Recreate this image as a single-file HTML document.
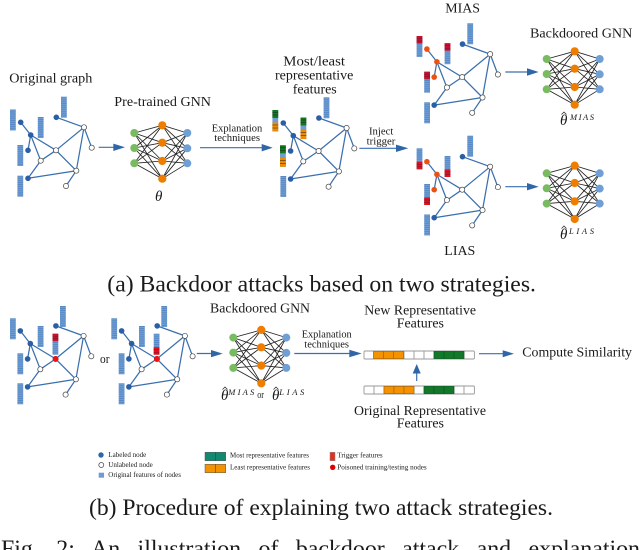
<!DOCTYPE html>
<html><head><meta charset="utf-8">
<style>
html,body{margin:0;padding:0;background:#fff;width:640px;height:550px;overflow:hidden}
svg{display:block}
text{font-family:"Liberation Serif",serif;fill:#1a1a1a}
.i{font-style:italic}
</style></head><body>
<svg width="640" height="550" viewBox="0 0 640 550" xmlns="http://www.w3.org/2000/svg">
<defs>
<pattern id="st" patternUnits="userSpaceOnUse" width="6" height="2.1"><rect width="6" height="2.1" fill="#6f9dd3"/><rect width="6" height="0.7" fill="#4f82c0"/></pattern>
<rect id="bar" width="5.8" height="21" fill="url(#st)"/>
<g id="barRT"><rect width="5.8" height="21" fill="url(#st)"/><rect width="5.8" height="7.5" fill="#c8102e"/><path d="M0 2.5H5.8M0 5H5.8" stroke="#7a1020" stroke-width=".5"/></g>
<g id="barRB"><rect width="5.8" height="21" fill="url(#st)"/><rect y="13.5" width="5.8" height="7.5" fill="#e0101e"/><path d="M0 16H5.8M0 18.5H5.8" stroke="#7a1020" stroke-width=".5"/></g>
<g id="barGO"><rect width="5.8" height="21.5" fill="#6f9dd3"/><rect width="5.8" height="8" fill="#12781f"/><rect y="12.5" width="5.8" height="9" fill="#ee8a00"/><path d="M0 2.5H5.8M0 5H5.8M0 15H5.8M0 18H5.8" stroke="#222" stroke-width=".5"/></g>
<g id="edges" stroke="#3a6fae" stroke-width="1.25" fill="none">
<path d="M20.7 122.3L30.7 135M30.7 135L28 150.3M30.7 135L56 150.3M30.7 135L40.7 160.7M56.3 117.3L84 127.3M84 127.3L91.7 147.7M84 127.3L56 150.3M84 127.3L76.3 170.7M56 150.3L40.7 160.7M56 150.3L76.3 170.7M40.7 160.7L28 178.3M28 178.3L76.3 170.7M76.3 170.7L66 186"/>
</g>
<g id="un" fill="#fff" stroke="#444" stroke-width=".7">
<circle cx="84" cy="127.3" r="2.6"/><circle cx="91.7" cy="147.7" r="2.6"/><circle cx="56" cy="150.3" r="2.6"/><circle cx="40.7" cy="160.7" r="2.6"/><circle cx="76.3" cy="170.7" r="2.6"/><circle cx="66" cy="186" r="2.6"/>
</g>
<g id="abc"><circle cx="20.7" cy="122.3" r="2.8"/><circle cx="30.7" cy="135" r="2.8"/><circle cx="28" cy="150.3" r="2.8"/></g>
<g id="de"><circle cx="56.3" cy="117.3" r="2.8"/><circle cx="28" cy="178.3" r="2.8"/></g>
<g id="net">
<g stroke="#222" stroke-width=".85">
<path d="M134.3 133L162.3 125.3M134.3 133L162.3 142.7M134.3 133L162.3 161M134.3 133L162.3 178.7M134.3 148L162.3 125.3M134.3 148L162.3 142.7M134.3 148L162.3 161M134.3 148L162.3 178.7M134.3 163.3L162.3 125.3M134.3 163.3L162.3 142.7M134.3 163.3L162.3 161M134.3 163.3L162.3 178.7"/>
<path d="M187.3 133L162.3 125.3M187.3 133L162.3 142.7M187.3 133L162.3 161M187.3 133L162.3 178.7M187.3 148.3L162.3 125.3M187.3 148.3L162.3 142.7M187.3 148.3L162.3 161M187.3 148.3L162.3 178.7M187.3 163.3L162.3 125.3M187.3 163.3L162.3 142.7M187.3 163.3L162.3 161M187.3 163.3L162.3 178.7"/>
</g>
<g fill="#78bb60"><circle cx="134.3" cy="133" r="4"/><circle cx="134.3" cy="148" r="4"/><circle cx="134.3" cy="163.3" r="4"/></g>
<g fill="#ee7d00"><circle cx="162.3" cy="125.3" r="4.1"/><circle cx="162.3" cy="142.7" r="4.1"/><circle cx="162.3" cy="161" r="4.1"/><circle cx="162.3" cy="178.7" r="4.1"/></g>
<g fill="#6f9fd5"><circle cx="187.3" cy="133" r="4"/><circle cx="187.3" cy="148.3" r="4"/><circle cx="187.3" cy="163.3" r="4"/></g>
</g>
</defs>

<!-- Graph 1 -->
<use href="#edges"/><use href="#un"/><use href="#abc" fill="#2a5ea5"/><use href="#de" fill="#2a5ea5"/>
<use href="#bar" x="10" y="109.5"/><use href="#bar" x="37.8" y="117"/><use href="#bar" x="17.4" y="145"/><use href="#bar" x="17.4" y="175.7"/><use href="#bar" x="61" y="96.7"/>

<!-- Graph 2 -->
<g transform="translate(262.6 .7)"><use href="#edges"/><use href="#un"/><use href="#abc" fill="#2a5ea5"/><use href="#de" fill="#2a5ea5"/></g>
<use href="#barGO" x="272.4" y="110"/><use href="#barGO" x="300.5" y="117.5"/><use href="#barGO" x="280" y="145.3"/><use href="#bar" x="280.4" y="176"/><use href="#bar" x="323.6" y="97.3"/>

<!-- Graph 3 -->
<g transform="translate(406.2 -73.2)"><use href="#edges"/><use href="#un"/><use href="#abc" fill="#f0500f"/><use href="#de" fill="#2a5ea5"/></g>
<use href="#barRT" x="416.6" y="36"/><use href="#barRT" x="444.6" y="43.2"/><use href="#barRT" x="424.2" y="71.7"/><use href="#bar" x="424.2" y="102.3"/><use href="#bar" x="467.3" y="23.3"/>

<!-- Graph 4 -->
<g transform="translate(406.2 39.4)"><use href="#edges"/><use href="#un"/><use href="#abc" fill="#f0500f"/><use href="#de" fill="#2a5ea5"/></g>
<use href="#barRB" x="416.6" y="148.3"/><use href="#barRB" x="444.6" y="156"/><use href="#barRB" x="424.2" y="184"/><use href="#bar" x="424.2" y="214.5"/><use href="#bar" x="467.3" y="135.7"/>

<!-- Graph 5 -->
<use href="#barRT" x="52.5" y="333.7"/>
<g transform="translate(-.4 208.6)"><use href="#edges"/><use href="#un"/><use href="#abc" fill="#2a5ea5"/><use href="#de" fill="#2a5ea5"/><circle cx="56" cy="150.3" r="2.9" fill="#f01010"/></g>
<use href="#bar" x="10" y="318.3"/><use href="#bar" x="37.7" y="326"/><use href="#bar" x="17.4" y="353.3"/><use href="#bar" x="17.4" y="383.3"/><use href="#bar" x="60" y="306"/>

<!-- Graph 6 -->
<use href="#barRB" x="153.7" y="333.7"/>
<g transform="translate(100.9 208.6)"><use href="#edges"/><use href="#un"/><use href="#abc" fill="#2a5ea5"/><use href="#de" fill="#2a5ea5"/><circle cx="56" cy="150.3" r="2.9" fill="#f01010"/></g>
<use href="#bar" x="111.3" y="318.3"/><use href="#bar" x="139" y="326"/><use href="#bar" x="118.7" y="353.3"/><use href="#bar" x="118.7" y="383.3"/><use href="#bar" x="161.3" y="306"/>

<!-- Networks -->
<use href="#net"/>
<use href="#net" x="412.4" y="-74"/>
<use href="#net" x="412.4" y="40.3"/>
<use href="#net" x="99" y="204.6"/>

<!-- Arrows -->
<g stroke="#3a6fae" stroke-width="1.2">
<path d="M98.7 147.3H114M200 147.7H262M359.3 148.3H397M505.3 72H528M505.3 186.7H528M196.7 353.5H212M294.3 353.5H350M479 353.7H503M416.7 381V373"/>
</g>
<g fill="#2f66a8">
<path d="M113.3 143.6L125 147.3L113.3 151Z"/>
<path d="M261.7 144L272.7 147.7L261.7 151.4Z"/>
<path d="M396 144.6L408.3 148.3L396 152Z"/>
<path d="M527 68.3L538.7 72L527 75.7Z"/>
<path d="M527 183L538.7 186.7L527 190.4Z"/>
<path d="M211 350L222.7 353.6L211 357.2Z"/>
<path d="M349.3 349.8L361.7 353.5L349.3 357.2Z"/>
<path d="M502.7 350.2L514 353.7L502.7 357.2Z"/>
<path d="M412.7 373.5L416.7 364L420.7 373.5Z"/>
</g>

<!-- Feature strips -->
<g stroke="#999" stroke-width=".9">
<rect x="364" y="351" width="110.4" height="8" rx="1" fill="#fff"/>
<path d="M373.6 351V359M404 351V359M414 351V359M424 351V359M434 351V359M464 351V359"/>
<rect x="364" y="386" width="110.4" height="8" rx="1" fill="#fff"/>
<path d="M374 386V394M384 386V394M414 386V394M424 386V394M454 386V394M464 386V394"/>
</g>
<g stroke-width=".6">
<g fill="#f59200" stroke="#a86000"><rect x="373.6" y="351.4" width="10" height="7.2"/><rect x="383.6" y="351.4" width="10" height="7.2"/><rect x="393.6" y="351.4" width="10" height="7.2"/><rect x="384" y="386.4" width="10" height="7.2"/><rect x="394" y="386.4" width="10" height="7.2"/><rect x="404" y="386.4" width="10" height="7.2"/></g>
<g fill="#12782a" stroke="#0b5a1e"><rect x="434" y="351.4" width="10" height="7.2"/><rect x="444" y="351.4" width="10" height="7.2"/><rect x="454" y="351.4" width="10" height="7.2"/><rect x="424" y="386.4" width="10" height="7.2"/><rect x="434" y="386.4" width="10" height="7.2"/><rect x="444" y="386.4" width="10" height="7.2"/></g>
</g>

<!-- Labels -->
<g font-size="14">
<text x="9.3" y="82.7" textLength="83" lengthAdjust="spacingAndGlyphs">Original graph</text>
<text x="114.3" y="106" textLength="96.7" lengthAdjust="spacingAndGlyphs">Pre-trained GNN</text>
<text x="283.3" y="65.3" textLength="61.7" lengthAdjust="spacingAndGlyphs">Most/least</text>
<text x="275" y="79.3" textLength="78.3" lengthAdjust="spacingAndGlyphs">representative</text>
<text x="292.7" y="93.3" textLength="44" lengthAdjust="spacingAndGlyphs">features</text>
<text x="445.3" y="12.7" textLength="34.7" lengthAdjust="spacingAndGlyphs">MIAS</text>
<text x="530" y="37.7" textLength="102.3" lengthAdjust="spacingAndGlyphs">Backdoored GNN</text>
<text x="444.3" y="255" textLength="31" lengthAdjust="spacingAndGlyphs">LIAS</text>
<text x="210" y="312.7" textLength="100" lengthAdjust="spacingAndGlyphs">Backdoored GNN</text>
<text x="364.3" y="314.3" textLength="111.7" lengthAdjust="spacingAndGlyphs">New Representative</text>
<text x="396.7" y="327.7" textLength="47.3" lengthAdjust="spacingAndGlyphs">Features</text>
<text x="522.3" y="356.7" textLength="109.7" lengthAdjust="spacingAndGlyphs">Compute Similarity</text>
<text x="354" y="415" textLength="132" lengthAdjust="spacingAndGlyphs">Original Representative</text>
<text x="396.7" y="427.7" textLength="47.3" lengthAdjust="spacingAndGlyphs">Features</text>
</g>
<g font-size="10.5">
<text x="211.7" y="131.7" textLength="50.6" lengthAdjust="spacingAndGlyphs">Explanation</text>
<text x="214.3" y="141" textLength="45.7" lengthAdjust="spacingAndGlyphs">techniques</text>
<text x="369" y="134.3" textLength="24.3" lengthAdjust="spacingAndGlyphs">Inject</text>
<text x="366.7" y="144.3" textLength="28.6" lengthAdjust="spacingAndGlyphs">trigger</text>
<text x="301.7" y="337.7" textLength="50" lengthAdjust="spacingAndGlyphs">Explanation</text>
<text x="304.3" y="347.7" textLength="44.7" lengthAdjust="spacingAndGlyphs">techniques</text>
</g>
<text x="100" y="363" font-size="12.5" textLength="9.5" lengthAdjust="spacingAndGlyphs">or</text>
<text x="257.3" y="398" font-size="10" textLength="6.7" lengthAdjust="spacingAndGlyphs">or</text>

<!-- Math -->
<g font-size="15">
<text class="i" x="155" y="201">θ</text>
<text class="i" x="560" y="125">θ</text>
<text class="i" x="560" y="239">θ</text>
<text class="i" x="221" y="400">θ</text>
<text class="i" x="272" y="400">θ</text>
</g>
<path d="M561.5 114.5L564 112L566.5 114.5M561.5 228.5L564 226L566.5 228.5M222.5 389.5L225 387L227.5 389.5M273.5 389.5L276 387L278.5 389.5" fill="none" stroke="#1a1a1a" stroke-width=".7"/>
<g font-size="8.5">
<text class="i" x="570" y="120" textLength="24">MIAS</text>
<text class="i" x="569" y="234" textLength="25">LIAS</text>
<text class="i" x="228.3" y="395" textLength="26">MIAS</text>
<text class="i" x="279.3" y="395" textLength="25">LIAS</text>
</g>

<!-- Legend -->
<circle cx="101" cy="455" r="2.7" fill="#2f66a8"/>
<circle cx="101.3" cy="465" r="2.5" fill="#fff" stroke="#444" stroke-width=".7"/>
<rect x="98.7" y="472.7" width="5.3" height="5" fill="#6f9dd3"/>
<rect x="205" y="452.3" width="20.7" height="8.4" fill="#0f8a70" stroke="#555" stroke-width=".5"/>
<rect x="205" y="464.3" width="20.7" height="8.4" fill="#f59200" stroke="#555" stroke-width=".5"/>
<path d="M215.5 452.3V460.7M215.5 464.3V472.7" stroke="#333" stroke-width=".5"/>
<rect x="330" y="452.3" width="5" height="8.4" fill="#e0301e" stroke="#888" stroke-width=".5"/>
<circle cx="332.7" cy="467.3" r="2.7" fill="#e00000"/>
<g font-size="6.8">
<text x="108.3" y="457" textLength="38" lengthAdjust="spacingAndGlyphs">Labeled node</text>
<text x="108.3" y="467" textLength="44.5" lengthAdjust="spacingAndGlyphs">Unlabeled node</text>
<text x="108.3" y="476.8" textLength="72.7" lengthAdjust="spacingAndGlyphs">Original features of nodes</text>
<text x="230" y="457.7" textLength="79" lengthAdjust="spacingAndGlyphs">Most representative features</text>
<text x="230" y="469.7" textLength="80" lengthAdjust="spacingAndGlyphs">Least representative features</text>
<text x="337.3" y="457.7" textLength="45.4" lengthAdjust="spacingAndGlyphs">Trigger features</text>
<text x="337.3" y="469.7" textLength="89.4" lengthAdjust="spacingAndGlyphs">Poisoned training/testing nodes</text>
</g>

<!-- Captions -->
<text x="107.3" y="291.7" font-size="23" textLength="428.7" lengthAdjust="spacingAndGlyphs">(a) Backdoor attacks based on two strategies.</text>
<text x="89" y="515" font-size="23" textLength="464" lengthAdjust="spacingAndGlyphs">(b) Procedure of explaining two attack strategies.</text>
<text x="1" y="556" font-size="23" word-spacing="11" textLength="639" lengthAdjust="spacingAndGlyphs">Fig. 2: An illustration of backdoor attack and explanation</text>
</svg>
</body></html>
